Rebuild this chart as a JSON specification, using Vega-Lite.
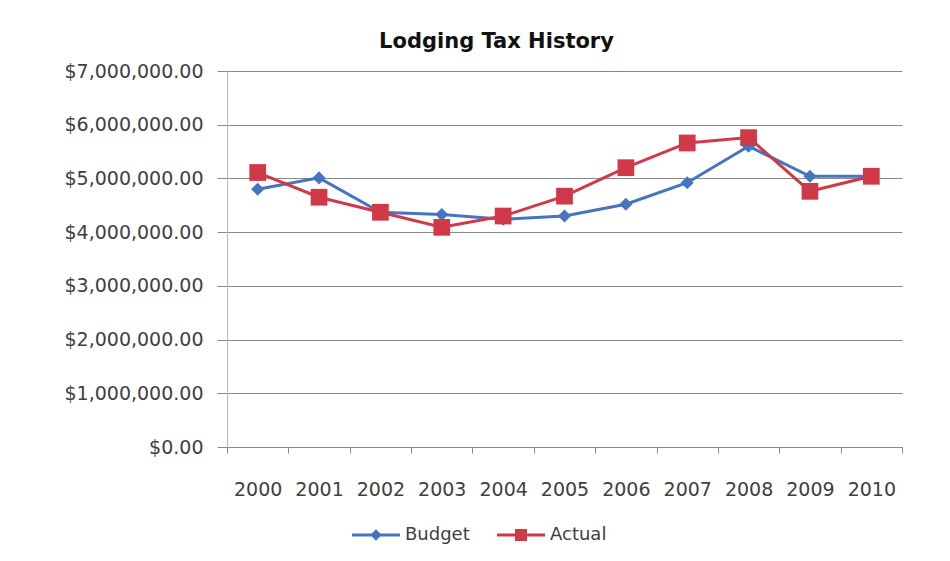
{
  "$schema": "https://vega.github.io/schema/vega-lite/v6.json",
  "width": 675,
  "height": 376,
  "autosize": {"type": "none"},
  "padding": {"left": 227, "top": 71, "right": 48, "bottom": 114},
  "background": "white",
  "title": {
    "text": "Lodging Tax History",
    "anchor": "middle",
    "frame": "group",
    "dx": -68,
    "offset": -7,
    "baseline": "alphabetic",
    "font": "DejaVu Sans",
    "fontSize": 21,
    "fontWeight": "bold",
    "color": "#111111"
  },
  "data": {
    "values": [
      {"year": "2000", "series": "Budget", "value": 4800000},
      {"year": "2001", "series": "Budget", "value": 5010000},
      {"year": "2002", "series": "Budget", "value": 4370000},
      {"year": "2003", "series": "Budget", "value": 4330000},
      {"year": "2004", "series": "Budget", "value": 4240000},
      {"year": "2005", "series": "Budget", "value": 4300000},
      {"year": "2006", "series": "Budget", "value": 4520000},
      {"year": "2007", "series": "Budget", "value": 4920000},
      {"year": "2008", "series": "Budget", "value": 5600000},
      {"year": "2009", "series": "Budget", "value": 5040000},
      {"year": "2010", "series": "Budget", "value": 5040000},
      {"year": "2000", "series": "Actual", "value": 5110000},
      {"year": "2001", "series": "Actual", "value": 4650000},
      {"year": "2002", "series": "Actual", "value": 4370000},
      {"year": "2003", "series": "Actual", "value": 4090000},
      {"year": "2004", "series": "Actual", "value": 4300000},
      {"year": "2005", "series": "Actual", "value": 4670000},
      {"year": "2006", "series": "Actual", "value": 5200000},
      {"year": "2007", "series": "Actual", "value": 5660000},
      {"year": "2008", "series": "Actual", "value": 5760000},
      {"year": "2009", "series": "Actual", "value": 4760000},
      {"year": "2010", "series": "Actual", "value": 5040000}
    ]
  },
  "encoding": {
    "x": {
      "field": "year",
      "type": "ordinal",
      "scale": {"type": "band", "paddingInner": 0, "paddingOuter": 0},
      "axis": {
        "title": null,
        "labelAngle": 0,
        "labelFont": "DejaVu Sans",
        "labelFontSize": 19,
        "labelColor": "#404040",
        "labelPadding": 27,
        "tickBand": "extent",
        "ticks": true,
        "tickSize": 6,
        "tickColor": "#8a8a8a",
        "domainColor": "#8a8a8a",
        "grid": false
      }
    },
    "y": {
      "field": "value",
      "type": "quantitative",
      "scale": {"domain": [0, 7000000], "nice": false},
      "axis": {
        "title": null,
        "format": "$,.2f",
        "values": [0, 1000000, 2000000, 3000000, 4000000, 5000000, 6000000, 7000000],
        "labelFont": "DejaVu Sans",
        "labelFontSize": 19,
        "labelColor": "#404040",
        "labelPadding": 14,
        "tickSize": 10,
        "tickColor": "#8a8a8a",
        "domainColor": "#b8b8b8",
        "grid": true,
        "gridColor": "#8a8a8a",
        "gridWidth": 1
      }
    }
  },
  "layer": [
    {
      "mark": {"type": "line", "strokeWidth": 3},
      "encoding": {
        "color": {
          "field": "series",
          "type": "nominal",
          "scale": {"domain": ["Budget", "Actual"], "range": ["#4475BE", "#D03A48"]},
          "legend": null
        }
      }
    },
    {
      "mark": {"type": "point", "filled": true, "opacity": 1, "strokeWidth": 0},
      "encoding": {
        "color": {"field": "series", "type": "nominal", "legend": null},
        "shape": {
          "field": "series",
          "type": "nominal",
          "scale": {"domain": ["Budget", "Actual"], "range": ["diamond", "square"]},
          "legend": null
        },
        "size": {
          "field": "series",
          "type": "nominal",
          "scale": {"domain": ["Budget", "Actual"], "range": [170, 280]},
          "legend": null
        }
      }
    },
    {
      "transform": [{"filter": "false"}],
      "mark": {"type": "point", "filled": true, "opacity": 1, "strokeWidth": 0},
      "encoding": {
        "shape": {
          "field": "series",
          "type": "nominal",
          "scale": {
            "domain": ["Budget", "Actual"],
            "range": [
              "M-1,-0.065H1V0.065H-1Z M0,-0.24L0.24,0L0,0.24L-0.24,0Z",
              "M-1,-0.065H1V0.065H-1Z M-0.25,-0.25H0.25V0.25H-0.25Z"
            ]
          },
          "legend": {
            "title": null,
            "orient": "none",
            "legendX": 125,
            "legendY": 440,
            "direction": "horizontal",
            "symbolSize": 2304,
            "symbolStrokeWidth": 0,
            "labelFont": "DejaVu Sans",
            "labelFontSize": 18,
            "labelColor": "#404040",
            "labelOffset": 5,
            "columnPadding": 27,
            "padding": 0
          }
        },
        "color": {
          "field": "series",
          "type": "nominal",
          "legend": {
            "title": null,
            "orient": "none",
            "legendX": 125,
            "legendY": 440,
            "direction": "horizontal",
            "symbolSize": 2304,
            "symbolStrokeWidth": 0,
            "labelFont": "DejaVu Sans",
            "labelFontSize": 18,
            "labelColor": "#404040",
            "labelOffset": 5,
            "columnPadding": 27,
            "padding": 0
          }
        }
      }
    }
  ],
  "resolve": {
    "scale": {"shape": "independent", "size": "independent"},
    "legend": {"color": "independent", "shape": "independent"}
  },
  "config": {
    "view": {"stroke": null}
  }
}
